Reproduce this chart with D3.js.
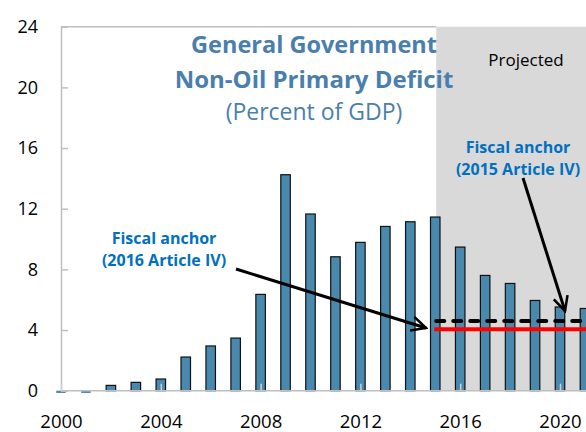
<!DOCTYPE html>
<html>
<head>
<meta charset="utf-8">
<script src="https://cdn.jsdelivr.net/npm/d3@7"></script>
<style>
  body { margin: 0; background: #fff; }
  svg { display: block; font-family: "Open Sans", sans-serif; }
</style>
</head>
<body>
<div id="chart"></div>
<script>
// data
var years = [2000, 2001, 2002, 2003, 2004, 2005, 2006, 2007, 2008, 2009, 2010,
             2011, 2012, 2013, 2014, 2015, 2016, 2017, 2018, 2019, 2020, 2021];
var deficit = [-0.15, -0.15, 0.35, 0.55, 0.77, 2.22, 2.95, 3.47, 6.35, 14.24, 11.65,
               8.83, 9.78, 10.83, 11.14, 11.45, 9.47, 7.6, 7.07, 5.95, 5.52, 5.42];
var yTicks = [0, 4, 8, 12, 16, 20, 24];
var xTicks = [2000, 2004, 2008, 2012, 2016, 2020];
var projStart = 2015;
var anchor2015 = 4.6;   // dashed
var anchor2016 = 4.05;  // red

var width = 586, height = 432;
var svg = d3.select("#chart").append("svg")
    .attr("width", width)
    .attr("height", height);

var x = d3.scaleLinear().domain([2000, 2020]).range([61, 560]);
var y = d3.scaleLinear().domain([0, 24]).range([390.7, 26.7]);

// projected shading
svg.append("rect")
    .attr("x", x(projStart) + 1)
    .attr("y", y(24))
    .attr("width", width - x(projStart))
    .attr("height", y(0) - y(24))
    .attr("fill", "#d9d9d9");

// top border of plot area
svg.append("line")
    .attr("x1", x(2000)).attr("x2", x(projStart) + 1)
    .attr("y1", y(24)).attr("y2", y(24))
    .attr("stroke", "#bfbfbf").attr("stroke-width", 1.5);

// bars
var bw = 9.5;
svg.selectAll(".bar")
    .data(years)
    .enter()
    .append("rect")
    .attr("class", "bar")
    .attr("x", function(d) { return x(d) - bw / 2; })
    .attr("y", function(d, i) { return y(Math.max(0, deficit[i])); })
    .attr("width", bw)
    .attr("height", function(d, i) { return Math.abs(y(deficit[i]) - y(0)); })
    .attr("fill", "#4a89ae")
    .attr("stroke", function(d, i) { return deficit[i] < 0 ? "none" : "#111"; })
    .attr("stroke-width", 1.2);

// axes
var yAxis = d3.axisLeft(y).tickValues(yTicks).tickSize(-7).tickPadding(23);
var gy = svg.append("g").attr("transform", "translate(" + x(2000) + ",0)").call(yAxis);
gy.select(".domain").attr("stroke", "#bfbfbf").attr("stroke-width", 1.5);
gy.selectAll(".tick line").attr("stroke", "#bfbfbf").attr("stroke-width", 1.5);
gy.selectAll(".tick text").attr("font-size", 18).attr("fill", "#000")
    .attr("font-family", "Open Sans, sans-serif");

var xAxis = d3.axisBottom(x).tickValues(xTicks).tickFormat(d3.format("d"))
    .tickSize(-7).tickPadding(24);
var gx = svg.append("g").attr("transform", "translate(0," + y(0) + ")").call(xAxis);
gx.select(".domain").attr("stroke", "#bfbfbf").attr("stroke-width", 1.5)
    .attr("d", "M" + x(2000) + ",0H" + width);
gx.selectAll(".tick line").attr("stroke", "#d0d0d0").attr("stroke-width", 1.5);
gx.selectAll(".tick text").attr("font-size", 18.5).attr("fill", "#000")
    .attr("font-family", "Open Sans, sans-serif");

// anchor lines
svg.append("line")
    .attr("x1", x(projStart) - 1).attr("x2", width)
    .attr("y1", y(anchor2016)).attr("y2", y(anchor2016))
    .attr("stroke", "#ff0000").attr("stroke-width", 4);
svg.append("line")
    .attr("x1", x(projStart) + 1).attr("x2", width)
    .attr("y1", y(anchor2015)).attr("y2", y(anchor2015))
    .attr("stroke", "#000").attr("stroke-width", 4)
    .attr("stroke-dasharray", "8,9")
    .attr("stroke-linecap", "round");

// arrows
var defs = svg.append("defs");
defs.append("marker")
    .attr("id", "arr")
    .attr("viewBox", "0 0 10 10")
    .attr("refX", 9).attr("refY", 5)
    .attr("markerWidth", 6).attr("markerHeight", 6)
    .attr("markerUnits", "strokeWidth")
    .attr("orient", "auto")
    .append("path")
    .attr("d", "M1,1L9,5L1,9")
    .attr("fill", "none").attr("stroke", "#000").attr("stroke-width", 1.4)
    .attr("stroke-linejoin", "miter");

svg.append("line")
    .attr("x1", 236).attr("y1", 269)
    .attr("x2", 426).attr("y2", 328)
    .attr("stroke", "#000").attr("stroke-width", 3)
    .attr("marker-end", "url(#arr)");
svg.append("line")
    .attr("x1", 523).attr("y1", 178)
    .attr("x2", 565).attr("y2", 311)
    .attr("stroke", "#000").attr("stroke-width", 3)
    .attr("marker-end", "url(#arr)");

// title
var titleColor = "#4a7fad";
svg.append("text").attr("x", 314).attr("y", 53)
    .attr("text-anchor", "middle").attr("font-size", 23.5).attr("font-weight", "bold")
    .attr("fill", titleColor).text("General Government");
svg.append("text").attr("x", 314).attr("y", 88)
    .attr("text-anchor", "middle").attr("font-size", 24).attr("font-weight", "bold")
    .attr("fill", titleColor).text("Non-Oil Primary Deficit");
svg.append("text").attr("x", 314).attr("y", 120)
    .attr("text-anchor", "middle").attr("font-size", 23)
    .attr("fill", titleColor).text("(Percent of GDP)");

svg.append("text").attr("x", 526).attr("y", 66)
    .attr("text-anchor", "middle").attr("font-size", 17)
    .attr("fill", "#000").text("Projected");

// annotations
var annColor = "#0070c0";
function note(cx, y0, lines) {
  lines.forEach(function(t, i) {
    svg.append("text").attr("x", cx).attr("y", y0 + i * 22)
        .attr("text-anchor", "middle").attr("font-size", 16).attr("font-weight", "bold")
        .attr("fill", annColor).text(t);
  });
}
note(518, 153, ["Fiscal anchor", "(2015 Article IV)"]);
note(164, 244, ["Fiscal anchor", "(2016 Article IV)"]);
</script>
</body>
</html>
